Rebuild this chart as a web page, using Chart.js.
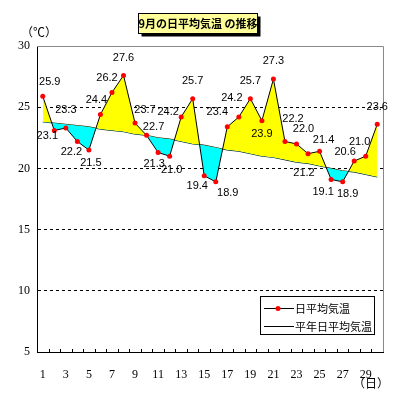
<!DOCTYPE html>
<html><head><meta charset="utf-8">
<script src="https://cdn.jsdelivr.net/npm/chart.js@4"></script>
<style>html,body{margin:0;padding:0;background:#fff;} #wrap{width:399px;height:400px;position:relative;}</style>
</head><body><div id="wrap"><canvas id="c" width="399" height="400"></canvas></div>
<script>
const days = ['1','2','3','4','5','6','7','8','9','10','11','12','13','14','15','16','17','18','19','20','21','22','23','24','25','26','27','28','29','30'];
const dailyTemps = [25.9,23.1,23.3,22.2,21.5,24.4,26.2,27.6,23.7,22.7,21.3,21.0,24.2,25.7,19.4,18.9,23.4,24.2,25.7,23.9,27.3,22.2,22.0,21.2,21.4,19.1,18.9,20.6,21.0,23.6];
const normalTemps = [23.8,23.7,23.6,23.5,23.4,23.2,23.1,23.0,22.8,22.7,22.5,22.4,22.2,22.0,21.9,21.7,21.5,21.4,21.2,21.0,20.9,20.7,20.5,20.4,20.2,20.0,19.8,19.7,19.5,19.3];
const yMin = 5, yMax = 30, yStep = 5;
const titleText = '9月の日平均気温 の推移';
const seriesNames = ['日平均気温', '平年日平均気温'];
const yUnit = '（℃）';
const xUnit = '（日）';
// label placement (dx, dy from point) – styling only
const labelOffsets = [[7,-14],[-7,6],[0,-18],[-6,10],[2,13],[-4,-15],[-5,-15],[0,-17],[10,-13],[7,-8],
  [-4,11],[2,14],[-13,-5],[0,-18],[-7,10],[12,11],[-10,-15],[-7,-19],[0,-18],[0,13],
  [0,-18],[8,-23],[7,-15],[-4,19],[4,-11],[-8,13],[5,12],[-9,-9],[-6,-14],[0,-17]];

const CJK = '"Noto Sans CJK JP", "Noto Sans", sans-serif';

const decor = {
  id: 'decor',
  beforeDatasetsDraw(chart) {
    const {ctx, chartArea: a} = chart;
    ctx.save();
    ctx.strokeStyle = '#888';
    ctx.lineWidth = 1;
    ctx.beginPath();
    ctx.moveTo(a.left, Math.round(a.top) + 0.5);
    ctx.lineTo(Math.round(a.right) + 0.5, Math.round(a.top) + 0.5);
    ctx.lineTo(Math.round(a.right) + 0.5, a.bottom);
    ctx.stroke();
    // inward tick marks at category boundaries
    const xs = chart.scales.x;
    ctx.strokeStyle = '#000';
    ctx.beginPath();
    for (let i = 0; i < days.length - 1; i++) {
      const x = Math.round((xs.getPixelForValue(i) + xs.getPixelForValue(i + 1)) / 2) + 0.5;
      ctx.moveTo(x, Math.round(a.bottom));
      ctx.lineTo(x, Math.round(a.bottom) - 3);
    }
    ctx.stroke();
    ctx.restore();
  },
  afterDatasetsDraw(chart) {
    const {ctx} = chart;
    const meta = chart.getDatasetMeta(0);
    ctx.save();
    ctx.fillStyle = '#000';
    ctx.font = '11px "Liberation Sans", Arial, sans-serif';
    ctx.textAlign = 'center';
    ctx.textBaseline = 'middle';
    meta.data.forEach((pt, i) => {
      const o = labelOffsets[i];
      ctx.fillText(dailyTemps[i].toFixed(1), pt.x + o[0], pt.y + o[1]);
    });
    ctx.restore();
  },
  afterDraw(chart) {
    const {ctx, chartArea: a} = chart;
    ctx.save();
    // title box
    const bx = 138.5, by = 13.5, bw = 119, bh = 20;
    ctx.fillStyle = '#000';
    ctx.fillRect(bx + 3, by + 3, bw, bh);
    ctx.fillStyle = '#FFFF99';
    ctx.fillRect(bx, by, bw, bh);
    ctx.strokeStyle = '#000';
    ctx.lineWidth = 1;
    ctx.strokeRect(bx, by, bw, bh);
    ctx.fillStyle = '#000';
    ctx.font = 'bold 11px ' + CJK;
    ctx.textAlign = 'center';
    ctx.textBaseline = 'middle';
    ctx.fillText(titleText, bx + bw / 2, by + bh / 2 + 0.5);
    // units
    ctx.font = '12px ' + CJK;
    ctx.fillText(yUnit, 39, 32);
    ctx.fillText(xUnit, 371, 383);
    // legend
    const lx = 260.5, ly = 296.5, lw = 114, lh = 38;
    ctx.fillStyle = '#fff';
    ctx.fillRect(lx, ly, lw, lh);
    ctx.strokeStyle = '#000';
    ctx.strokeRect(lx, ly, lw, lh);
    ctx.beginPath();
    ctx.moveTo(264, 308.5); ctx.lineTo(294, 308.5);
    ctx.moveTo(264, 326.5); ctx.lineTo(294, 326.5);
    ctx.stroke();
    ctx.fillStyle = '#FF0000';
    ctx.beginPath(); ctx.arc(278, 308.5, 2.5, 0, Math.PI * 2); ctx.fill();
    ctx.fillStyle = '#000';
    ctx.font = '11px ' + CJK;
    ctx.textAlign = 'left';
    ctx.fillText(seriesNames[0], 295, 308.5);
    ctx.fillText(seriesNames[1], 295, 326.5);
    ctx.restore();
  }
};

new Chart(document.getElementById('c'), {
  type: 'line',
  data: {
    labels: days,
    datasets: [
      {
        label: seriesNames[0],
        data: dailyTemps,
        borderColor: '#000',
        borderWidth: 1,
        pointRadius: 2.5,
        pointBorderWidth: 0,
        pointBackgroundColor: '#FF0000',
        tension: 0,
        fill: {target: 1, above: '#FFFF00', below: '#00FFFF'}
      },
      {
        label: seriesNames[1],
        data: normalTemps,
        borderColor: '#000',
        borderWidth: 1,
        pointRadius: 0,
        tension: 0,
        fill: false
      }
    ]
  },
  options: {
    responsive: false,
    animation: false,
    events: [],
    layout: {padding: {top: 46, right: 16, left: 0, bottom: 0}},
    plugins: {legend: {display: false}, title: {display: false}, tooltip: {enabled: false}},
    scales: {
      x: {
        offset: true,
        grid: {display: false},
        border: {display: true, color: '#000', width: 1},
        ticks: {
          autoSkip: false, maxRotation: 0, padding: 8,
          color: '#000',
          font: {family: '"Liberation Serif", serif', size: 12},
          callback: (v, i) => (i % 2 === 0 ? days[i] : '')
        },
        afterFit: s => { s.height = 48; }
      },
      y: {
        min: yMin, max: yMax,
        ticks: {stepSize: yStep, padding: 7, color: '#000', font: {family: '"Liberation Serif", serif', size: 12}},
        grid: {
          drawTicks: false,
          color: c => (c.tick && c.tick.value > yMin && c.tick.value < yMax) ? '#000' : 'rgba(0,0,0,0)',
          lineWidth: 1
        },
        border: {display: true, color: '#000', width: 1, dash: [3, 3]},
        afterFit: s => { s.width = 37; }
      }
    }
  },
  plugins: [decor]
});
</script>
</body></html>
